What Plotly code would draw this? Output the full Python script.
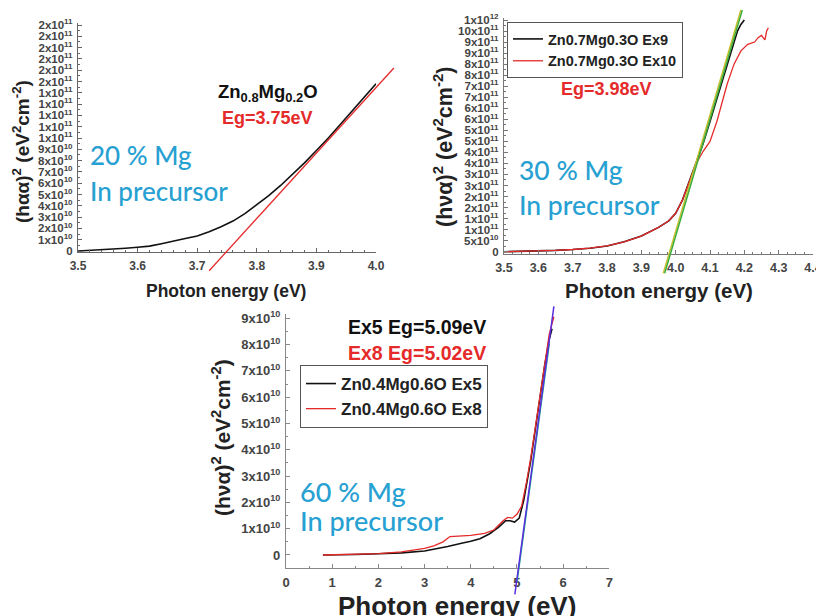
import plotly.graph_objects as go

# the page body adds an 8 px margin, so the figure is drawn 8 px smaller and
# every reference pixel position is shifted by that offset
OX, OY = 8, 8
W, H = 816, 608

# ---------------- data ----------------
# Panel 1: Zn0.8Mg0.2O (20 % Mg)
p1_x = [3.50, 3.52, 3.55, 3.58, 3.60, 3.62, 3.64, 3.66, 3.68, 3.70, 3.72, 3.74, 3.76, 3.78,
        3.80, 3.82, 3.84, 3.86, 3.88, 3.90, 3.92, 3.94, 3.96, 3.98, 4.00]
p1_y = [0.0, 0.05e10, 0.15e10, 0.25e10, 0.33e10, 0.43e10, 0.65e10, 0.9e10, 1.1e10, 1.33e10,
        1.7e10, 2.15e10, 2.65e10, 3.3e10, 4.1e10, 4.9e10, 5.8e10, 6.8e10, 7.8e10, 8.9e10,
        10.0e10, 11.2e10, 12.4e10, 13.6e10, 14.8e10]
p1_fit_x = [3.72, 4.03]
p1_fit_y = [-1.75e10, 16.2e10]

p1_xticks = [3.5, 3.6, 3.7, 3.8, 3.9, 4.0]
p1_yticks = [i * 1e10 for i in range(21)]
p1_ytext = ["0",
            "1x10<sup>10</sup>", "2x10<sup>10</sup>", "3x10<sup>10</sup>", "4x10<sup>10</sup>",
            "5x10<sup>10</sup>", "6x10<sup>10</sup>", "7x10<sup>10</sup>", "8x10<sup>10</sup>",
            "9x10<sup>10</sup>",
            "1x10<sup>11</sup>", "1x10<sup>11</sup>", "1x10<sup>11</sup>", "1x10<sup>11</sup>",
            "1x10<sup>11</sup>",
            "2x10<sup>11</sup>", "2x10<sup>11</sup>", "2x10<sup>11</sup>", "2x10<sup>11</sup>",
            "2x10<sup>11</sup>", "2x10<sup>11</sup>"]

# Panel 2: Zn0.7Mg0.3O (30 % Mg)
p2_ex9_x = [3.50, 3.55, 3.60, 3.65, 3.70, 3.75, 3.80, 3.85, 3.90, 3.95, 3.98, 4.00,
            4.02, 4.04, 4.06, 4.08, 4.10, 4.12, 4.14, 4.16, 4.18, 4.19, 4.20]
p2_ex9_y = [0.0, 0.01e11, 0.03e11, 0.06e11, 0.10e11, 0.16e11, 0.26e11, 0.45e11, 0.71e11,
            1.10e11, 1.40e11, 1.74e11, 2.35e11, 3.2e11, 4.1e11, 4.9e11, 5.9e11, 6.9e11,
            7.9e11, 9.0e11, 10.0e11, 10.3e11, 10.5e11]
p2_ex10_x = [3.50, 3.55, 3.60, 3.65, 3.70, 3.75, 3.80, 3.85, 3.90, 3.95, 3.98, 4.00,
             4.02, 4.04, 4.06, 4.08, 4.10, 4.12, 4.15, 4.17, 4.19, 4.21, 4.23, 4.24,
             4.25, 4.26, 4.265, 4.27]
p2_ex10_y = [0.0, 0.01e11, 0.03e11, 0.06e11, 0.10e11, 0.16e11, 0.26e11, 0.45e11, 0.71e11,
             1.10e11, 1.40e11, 1.74e11, 2.35e11, 3.2e11, 4.0e11, 4.55e11, 5.0e11, 5.9e11,
             7.6e11, 8.5e11, 9.1e11, 9.4e11, 9.5e11, 9.7e11, 9.8e11, 9.6e11, 10.0e11, 10.15e11]
p2_fitA_x = [3.964, 4.190]   # olive fit line
p2_fitA_y = [-0.98e11, 10.95e11]
p2_fitB_x = [3.968, 4.194]   # green fit line
p2_fitB_y = [-0.98e11, 10.95e11]

p2_xticks = [3.5, 3.6, 3.7, 3.8, 3.9, 4.0, 4.1, 4.2, 4.3, 4.4]
p2_yticks = [i * 5e10 for i in range(22)]
p2_ytext = ["0", "5x10<sup>10</sup>",
            "1x10<sup>11</sup>", "1x10<sup>11</sup>", "2x10<sup>11</sup>", "2x10<sup>11</sup>",
            "3x10<sup>11</sup>", "3x10<sup>11</sup>", "4x10<sup>11</sup>", "4x10<sup>11</sup>",
            "5x10<sup>11</sup>", "5x10<sup>11</sup>", "6x10<sup>11</sup>", "6x10<sup>11</sup>",
            "7x10<sup>11</sup>", "7x10<sup>11</sup>", "8x10<sup>11</sup>", "8x10<sup>11</sup>",
            "9x10<sup>11</sup>", "9x10<sup>11</sup>", "10x10<sup>11</sup>", "1x10<sup>12</sup>"]

# Panel 3: Zn0.4Mg0.6O (60 % Mg)
p3_ex5_x = [0.8, 1.0, 1.5, 2.0, 2.5, 3.0, 3.3, 3.5, 3.8, 4.0, 4.2, 4.4, 4.6, 4.75, 4.85,
            4.95, 5.05, 5.10, 5.15, 5.20, 5.30, 5.40, 5.50, 5.60, 5.70, 5.76]
p3_ex5_y = [0.0, 0.0, 0.02e10, 0.05e10, 0.08e10, 0.15e10, 0.25e10, 0.32e10, 0.45e10, 0.52e10,
            0.62e10, 0.8e10, 1.05e10, 1.3e10, 1.3e10, 1.25e10, 1.4e10, 1.7e10, 2.1e10, 2.6e10,
            3.6e10, 4.8e10, 6.0e10, 7.2e10, 8.2e10, 8.6e10]
p3_ex8_x = [0.8, 1.5, 2.0, 2.5, 3.0, 3.2, 3.4, 3.55, 3.7, 4.0, 4.3, 4.5, 4.7, 4.8, 4.9,
            5.0, 5.1, 5.2, 5.3, 5.4, 5.5, 5.6, 5.7, 5.8]
p3_ex8_y = [0.0, 0.02e10, 0.05e10, 0.12e10, 0.25e10, 0.35e10, 0.5e10, 0.7e10, 0.72e10,
            0.75e10, 0.82e10, 0.95e10, 1.3e10, 1.43e10, 1.4e10, 1.55e10, 1.85e10, 2.7e10,
            3.7e10, 4.9e10, 6.1e10, 7.3e10, 8.4e10, 9.06e10]
p3_fitA_x = [4.955, 5.80]    # blue fit line
p3_fitA_y = [-1.5e10, 9.45e10]
p3_fitB_x = [5.00, 5.70]     # green fit line
p3_fitB_y = [-1.05e10, 8.03e10]

p3_xticks = [0, 1, 2, 3, 4, 5, 6, 7]
p3_yticks = [i * 1e10 for i in range(10)]
p3_ytext = ["0", "1x10<sup>10</sup>", "2x10<sup>10</sup>", "3x10<sup>10</sup>",
            "4x10<sup>10</sup>", "5x10<sup>10</sup>", "6x10<sup>10</sup>", "7x10<sup>10</sup>",
            "8x10<sup>10</sup>", "9x10<sup>10</sup>"]

# ---------------- layout helpers ----------------
def xmap(p0, v0, p1, v1):
    k = (p1 - p0) / (v1 - v0)
    return (lambda v: p0 + k * (v - v0)), (lambda p: v0 + (p - p0) / k)

def px2x(p):
    return (p - OX) / W

def px2y(p):
    return 1 - (p - OY) / H

def xdomain(m, lo, hi):
    return [px2x(m(lo)), px2x(m(hi))]

def ydomain(m, lo, hi):
    return [px2y(m(lo)), px2y(m(hi))]

FONT = "Liberation Sans, Arial, sans-serif"
CAL = "Lato, Open Sans, sans-serif"
CYAN = "#27a0d2"
RED = "#e52a2a"

# panel geometry (reference pixel anchors)
x1m, x1i = xmap(78, 3.5, 376, 4.0)
y1m, y1i = xmap(251, 0, 25, 2e11)
x2m, x2i = xmap(504, 3.5, 813, 4.4)
y2m, y2i = xmap(251.7, 0, 20, 1.05e12)
x3m, x3i = xmap(286, 0, 609.3, 7)
y3m, y3i = xmap(555, 0, 318.3, 9e10)

fig = go.Figure()

# main curves
fig.add_trace(go.Scatter(x=p1_x, y=p1_y, mode="lines", line=dict(color="#111", width=1.6),
                         xaxis="x", yaxis="y", showlegend=False))
fig.add_trace(go.Scatter(x=p2_ex9_x, y=p2_ex9_y, mode="lines", name="Zn0.7Mg0.3O Ex9",
                         line=dict(color="#111", width=1.6), xaxis="x2", yaxis="y2",
                         legend="legend"))
fig.add_trace(go.Scatter(x=p2_ex10_x, y=p2_ex10_y, mode="lines", name="Zn0.7Mg0.3O Ex10",
                         line=dict(color=RED, width=1.3), xaxis="x2", yaxis="y2",
                         legend="legend"))
fig.add_trace(go.Scatter(x=p3_ex5_x, y=p3_ex5_y, mode="lines", name="Zn0.4Mg0.6O Ex5",
                         line=dict(color="#111", width=1.6), xaxis="x3", yaxis="y3",
                         legend="legend2"))
fig.add_trace(go.Scatter(x=p3_ex8_x, y=p3_ex8_y, mode="lines", name="Zn0.4Mg0.6O Ex8",
                         line=dict(color=RED, width=1.3), xaxis="x3", yaxis="y3",
                         legend="legend2"))

# fit lines on unclipped overlay axes (same scales, full-canvas domain)
fig.add_trace(go.Scatter(x=p1_fit_x, y=p1_fit_y, mode="lines", line=dict(color=RED, width=1.3),
                         xaxis="x4", yaxis="y4", showlegend=False))
fig.add_trace(go.Scatter(x=p2_fitA_x, y=p2_fitA_y, mode="lines",
                         line=dict(color="#c8c030", width=1.5),
                         xaxis="x5", yaxis="y5", showlegend=False))
fig.add_trace(go.Scatter(x=p2_fitB_x, y=p2_fitB_y, mode="lines",
                         line=dict(color="#3cae3c", width=1.5),
                         xaxis="x5", yaxis="y5", showlegend=False))
fig.add_trace(go.Scatter(x=p3_fitB_x, y=p3_fitB_y, mode="lines",
                         line=dict(color="#20b08a", width=1.5),
                         xaxis="x6", yaxis="y6", showlegend=False))
fig.add_trace(go.Scatter(x=p3_fitA_x, y=p3_fitA_y, mode="lines",
                         line=dict(color="#5a2ee0", width=1.5),
                         xaxis="x6", yaxis="y6", showlegend=False))


def main_x(m, lo, hi, anchor, ticks, fsize, fmt, minor_dtick, color):
    return dict(domain=xdomain(m, lo, hi), range=[lo, hi], anchor=anchor, automargin=False,
                tickmode="array", tickvals=ticks, tickformat=fmt,
                showline=True, linecolor=color, linewidth=1.2, mirror=False,
                ticks="inside", ticklen=4, tickcolor=color, showgrid=False, zeroline=False,
                tickfont=dict(family=FONT, size=fsize, color="#444", weight="bold"),
                ticklabelstandoff=2,
                minor=dict(tickmode="linear", tick0=lo, dtick=minor_dtick, ticks="inside",
                           ticklen=2, tickcolor=color, showgrid=False))


def main_y(m, lo, hi, anchor, ticks, text, fsize, minor_dtick, color):
    return dict(domain=ydomain(m, lo, hi), range=[lo, hi], anchor=anchor, automargin=False,
                tickmode="array", tickvals=ticks, ticktext=text,
                showline=True, linecolor=color, linewidth=1.2,
                ticks="inside", ticklen=4, tickcolor=color, showgrid=False, zeroline=False,
                tickfont=dict(family=FONT, size=fsize, color="#444", weight="bold"),
                ticklabelstandoff=2,
                minor=dict(tickmode="linear", tick0=0, dtick=minor_dtick, ticks="inside",
                           ticklen=2, tickcolor=color, showgrid=False))


def overlay(inv, is_y, anchor):
    rng = [inv(OY + H), inv(OY)] if is_y else [inv(OX), inv(OX + W)]
    return dict(domain=[0, 1], range=rng, anchor=anchor, visible=False, automargin=False,
                showgrid=False, zeroline=False, fixedrange=True)


fig.update_layout(
    width=W, height=H, margin=dict(l=0, r=0, t=0, b=0, pad=0, autoexpand=False),
    paper_bgcolor="white", plot_bgcolor="rgba(0,0,0,0)",
    xaxis=main_x(x1m, 3.5, 4.0, "y", p1_xticks, 12, ".1f", 0.02, "#666"),
    yaxis=main_y(y1m, -0.1e10, 2.02e11, "x", p1_yticks, p1_ytext, 11.5, 0.5e10, "#666"),
    xaxis2=main_x(x2m, 3.5, 4.4, "y2", p2_xticks, 12.5, ".1f", 0.025, "#777"),
    yaxis2=main_y(y2m, -0.1e11, 1.06e12, "x2", p2_yticks, p2_ytext, 11.5, 2.5e10, "#777"),
    xaxis3=main_x(x3m, 0, 7, "y3", p3_xticks, 13, "d", 0.5, "#888"),
    yaxis3=main_y(y3m, -0.5e10, 9.15e10, "x3", p3_yticks, p3_ytext, 13, 0.5e10, "#888"),
    xaxis4=overlay(x1i, False, "y4"), yaxis4=overlay(y1i, True, "x4"),
    xaxis5=overlay(x2i, False, "y5"), yaxis5=overlay(y2i, True, "x5"),
    xaxis6=overlay(x3i, False, "y6"), yaxis6=overlay(y3i, True, "x6"),
    legend=dict(x=px2x(507), y=px2y(22), xanchor="left", yanchor="top",
                bordercolor="#555", borderwidth=1, bgcolor="white",
                font=dict(family=FONT, size=14.5, color="#222", weight="bold"),
                itemwidth=30, tracegroupgap=0),
    legend2=dict(x=px2x(300), y=px2y(365), xanchor="left", yanchor="top",
                 bordercolor="#555", borderwidth=1, bgcolor="white",
                 font=dict(family=FONT, size=17, color="#222", weight="bold"),
                 itemwidth=30, tracegroupgap=0),
)


def ann(text, px, py, size, color, family=FONT, weight="bold", angle=0, xanchor="center"):
    fig.add_annotation(text=text, x=px2x(px), y=px2y(py), xref="paper", yref="paper",
                       showarrow=False, xanchor=xanchor, yanchor="middle", textangle=angle,
                       font=dict(family=family, size=size, color=color, weight=weight))


# axis titles
ann("Photon energy (eV)", 226, 291, 17.5, "#222")
ann("Photon energy (eV)", 659, 290, 20.5, "#222")
ann("Photon energy (eV)", 457, 606, 26, "#222")
ann("(hαα)<sup>2</sup> (eV<sup>2</sup>cm<sup>-2</sup>)", 21, 152, 19, "#222", angle=-90)
ann("(hνα)<sup>2</sup> (eV<sup>2</sup>cm<sup>-2</sup>)", 443, 147, 21.5, "#222", angle=-90)
ann("(hνα)<sup>2</sup> (eV<sup>2</sup>cm<sup>-2</sup>)", 221, 438, 21, "#222", angle=-90)

# panel 1 texts
ann("Zn<sub>0.8</sub>Mg<sub>0.2</sub>O", 268, 93, 18.5, "#111")
ann("Eg=3.75eV", 267, 118, 18, RED)
ann("20 % Mg", 88, 155, 26, CYAN, family=CAL, weight=500, xanchor="left")
ann("In precursor", 88, 191, 26, CYAN, family=CAL, weight=500, xanchor="left")

# panel 2 texts
ann("Eg=3.98eV", 606, 89, 18, RED)
ann("30 % Mg", 517, 170, 26.5, CYAN, family=CAL, weight=500, xanchor="left")
ann("In precursor", 517, 205, 26.5, CYAN, family=CAL, weight=500, xanchor="left")

# panel 3 texts
ann("Ex5 Eg=5.09eV", 417, 327, 19.5, "#111")
ann("Ex8 Eg=5.02eV", 417, 353, 19.5, RED)
ann("60 % Mg", 298, 491, 27, CYAN, family=CAL, weight=500, xanchor="left")
ann("In precursor", 298, 520, 27, CYAN, family=CAL, weight=500, xanchor="left")

fig.write_html("out.html")
